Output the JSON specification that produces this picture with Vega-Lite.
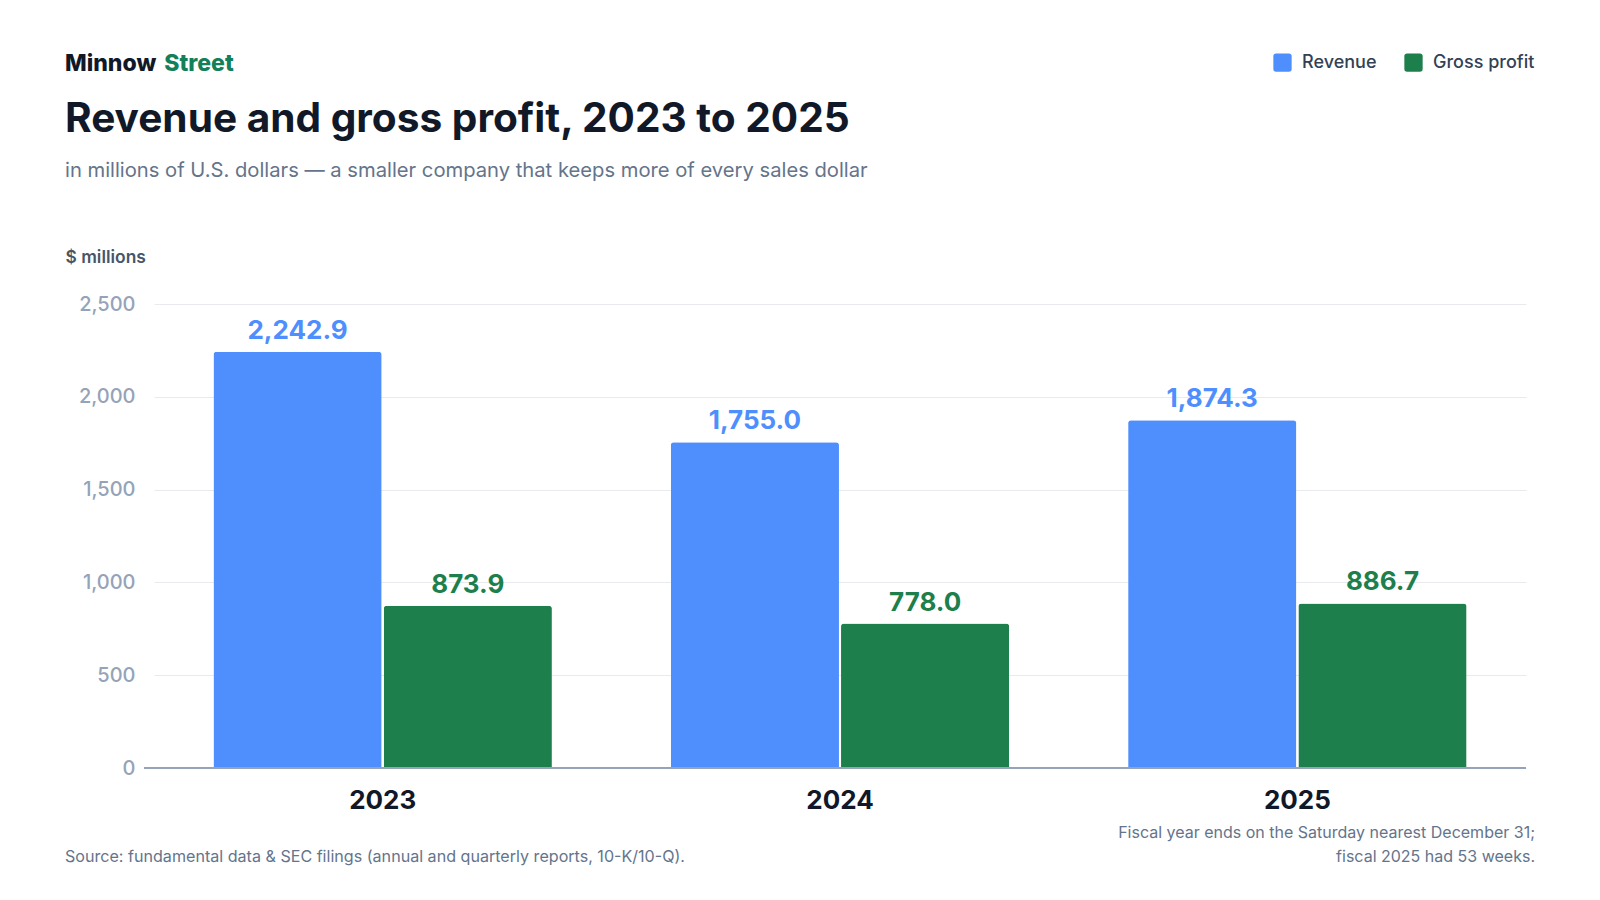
{
  "$schema": "https://vega.github.io/schema/vega-lite/v6.json",
  "description": "Minnow Street revenue and gross profit, 2023 to 2025, grouped bars.",
  "background": "white",
  "autosize": "none",
  "width": 1382,
  "height": 464,
  "padding": {"left": 144, "top": 304, "right": 74, "bottom": 132},
  "datasets": {
    "financials": [
      {"year": "2023", "series": "Revenue", "value": 2242.9},
      {"year": "2023", "series": "Gross profit", "value": 873.9},
      {"year": "2024", "series": "Revenue", "value": 1755.0},
      {"year": "2024", "series": "Gross profit", "value": 778.0},
      {"year": "2025", "series": "Revenue", "value": 1874.3},
      {"year": "2025", "series": "Gross profit", "value": 886.7}
    ]
  },
  "data": {"name": "financials"},
  "layer": [
    {
      "mark": {
        "type": "bar",
        "cornerRadiusTopLeft": 3,
        "cornerRadiusTopRight": 3
      },
      "encoding": {
        "x": {
          "field": "year",
          "type": "nominal",
          "sort": ["2023", "2024", "2025"],
          "scale": {"range": [10, 1382], "paddingInner": 0.26, "paddingOuter": 0.13},
          "axis": {
            "title": null,
            "domain": false,
            "ticks": false,
            "grid": false,
            "labelAngle": 0,
            "labelFont": "Inter",
            "labelFontSize": 26,
            "labelFontWeight": 700,
            "labelColor": "#111827",
            "labelBaseline": "alphabetic",
            "labelPadding": 40
          }
        },
        "xOffset": {
          "field": "series",
          "type": "nominal",
          "sort": ["Revenue", "Gross profit"],
          "scale": {"paddingInner": 0.012, "paddingOuter": 0}
        },
        "y": {
          "field": "value",
          "type": "quantitative",
          "scale": {"domain": [0, 2500], "nice": false},
          "axis": {
            "title": "$ millions",
            "titleAngle": 0,
            "titleAlign": "left",
            "titleBaseline": "alphabetic",
            "titleX": -79,
            "titleY": -41.3,
            "titleFont": "Inter",
            "titleFontSize": 17.4,
            "titleFontWeight": 600,
            "titleColor": "#475569",
            "values": [0, 500, 1000, 1500, 2000, 2500],
            "format": ",d",
            "domain": false,
            "ticks": false,
            "labelFont": "Inter",
            "labelFontSize": 20,
            "labelFontWeight": 500,
            "labelColor": "#94a3b8",
            "labelPadding": 9,
            "gridColor": "#e8eaee",
            "gridWidth": 1
          }
        },
        "color": {
          "field": "series",
          "type": "nominal",
          "sort": ["Revenue", "Gross profit"],
          "scale": {"domain": ["Revenue", "Gross profit"], "range": ["#4e8ffd", "#1c7f4c"]},
          "legend": {
            "title": null,
            "orient": "none",
            "direction": "horizontal",
            "legendX": 1129,
            "legendY": -251,
            "padding": 0,
            "symbolType": "M-0.7,-1H0.7Q1,-1 1,-0.7V0.7Q1,1 0.7,1H-0.7Q-1,1 -1,0.7V-0.7Q-1,-1 -0.7,-1Z",
            "symbolSize": 335,
            "symbolStrokeWidth": 0,
            "symbolOpacity": 1,
            "labelFont": "Inter",
            "labelFontSize": 18,
            "labelFontWeight": 500,
            "labelColor": "#334155",
            "labelOffset": 10,
            "columnPadding": 27
          }
        }
      }
    },
    {
      "mark": {"type": "rule", "color": "#94a3b8", "strokeWidth": 2},
      "encoding": {"y": {"datum": 0, "type": "quantitative"}}
    },
    {
      "mark": {
        "type": "text",
        "font": "Inter",
        "fontSize": 26,
        "fontWeight": 700,
        "baseline": "alphabetic",
        "dy": -13
      },
      "encoding": {
        "x": {"field": "year", "type": "nominal", "sort": ["2023", "2024", "2025"]},
        "xOffset": {"field": "series", "type": "nominal", "sort": ["Revenue", "Gross profit"]},
        "y": {"field": "value", "type": "quantitative"},
        "text": {"field": "value", "type": "quantitative", "format": ",.1f"},
        "color": {
          "condition": {"test": "datum.series === 'Revenue'", "value": "#4e8ffd"},
          "value": "#1c7f4c"
        }
      }
    },
    {
      "data": {"values": [{"label": "Minnow"}]},
      "mark": {"type": "text", "font": "Inter", "fontSize": 23, "fontWeight": 800, "color": "#111827", "align": "left", "baseline": "alphabetic"},
      "encoding": {"x": {"value": -79}, "y": {"value": -233.3}, "text": {"field": "label"}}
    },
    {
      "data": {"values": [{"label": "Street"}]},
      "mark": {"type": "text", "font": "Inter", "fontSize": 23, "fontWeight": 800, "color": "#13805c", "align": "left", "baseline": "alphabetic"},
      "encoding": {"x": {"value": 20.3}, "y": {"value": -233.3}, "text": {"field": "label"}}
    },
    {
      "data": {"values": [{"label": "Revenue and gross profit, 2023 to 2025"}]},
      "mark": {"type": "text", "font": "Inter", "fontSize": 40.6, "fontWeight": 700, "color": "#111827", "align": "left", "baseline": "alphabetic"},
      "encoding": {"x": {"value": -79}, "y": {"value": -172.3}, "text": {"field": "label"}}
    },
    {
      "data": {"values": [{"label": "in millions of U.S. dollars — a smaller company that keeps more of every sales dollar"}]},
      "mark": {"type": "text", "font": "Inter", "fontSize": 20.2, "color": "#64748b", "align": "left", "baseline": "alphabetic"},
      "encoding": {"x": {"value": -79}, "y": {"value": -127.5}, "text": {"field": "label"}}
    },
    {
      "data": {"values": [{"label": "Source: fundamental data & SEC filings (annual and quarterly reports, 10-K/10-Q)."}]},
      "mark": {"type": "text", "font": "Inter", "fontSize": 16.1, "color": "#64748b", "align": "left", "baseline": "alphabetic"},
      "encoding": {"x": {"value": -79}, "y": {"value": 558.3}, "text": {"field": "label"}}
    },
    {
      "data": {"values": [{"note": ["Fiscal year ends on the Saturday nearest December 31;", "fiscal 2025 had 53 weeks."]}]},
      "mark": {"type": "text", "font": "Inter", "fontSize": 16, "color": "#64748b", "align": "right", "baseline": "alphabetic", "lineHeight": 24},
      "encoding": {"x": {"value": 1391}, "y": {"value": 534.3}, "text": {"field": "note"}}
    }
  ],
  "config": {
    "view": {"stroke": null}
  }
}
